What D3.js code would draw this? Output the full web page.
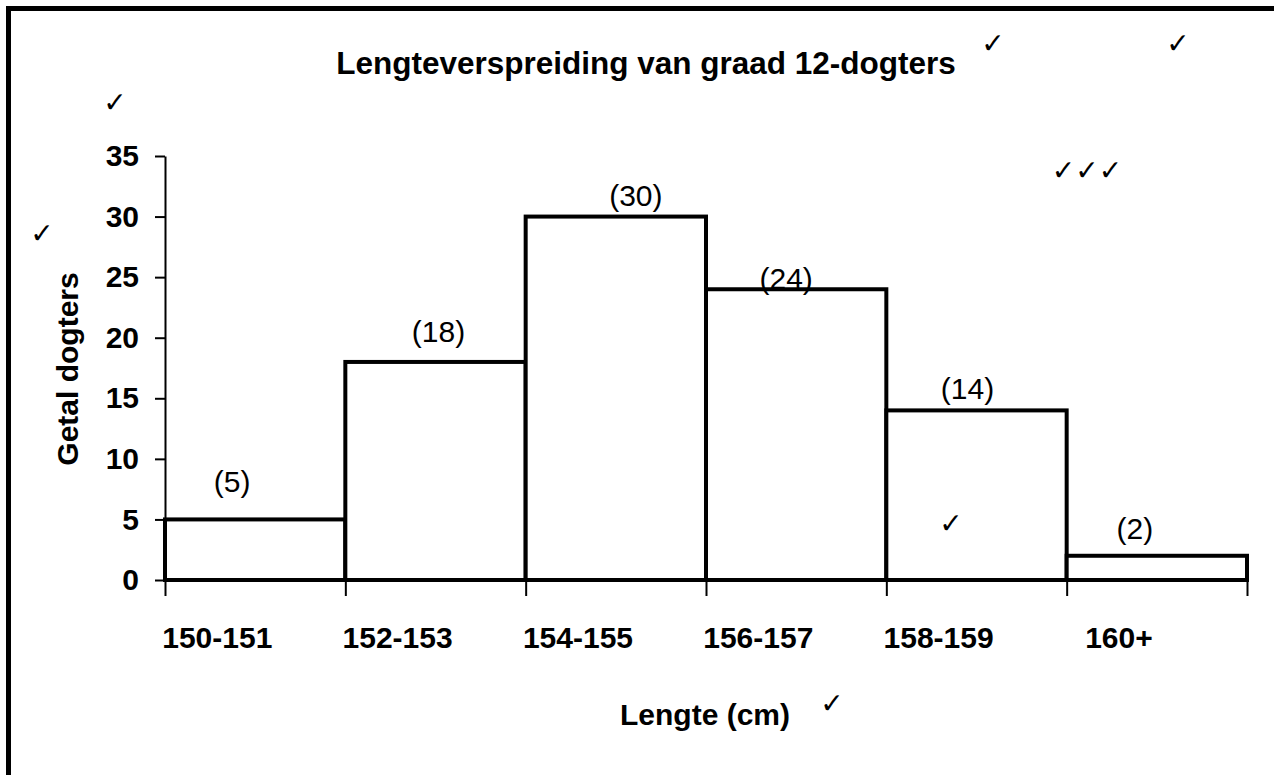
<!DOCTYPE html>
<html>
<head>
<meta charset="utf-8">
<script src="https://cdn.jsdelivr.net/npm/d3@7"></script>
<style>
  body { margin: 0; background: #fff; }
  text { font-family: "Liberation Sans", Arial, sans-serif; fill: #000; }
  .tick-mark { font-family: "DejaVu Sans", sans-serif; }
</style>
</head>
<body>
<div class="canvas"></div>
<script>
// data
const categories = ['150-151', '152-153', '154-155', '156-157', '158-159', '160+'];
const counts = [5, 18, 30, 24, 14, 2];
const yTicks = [0, 5, 10, 15, 20, 25, 30, 35];

// hand placed value labels (offset from bin centre / bar top)
const labelDx = [-23, 3, 20, -10, -9, -22];
const labelDy = [-27, -20, -11, 0, -11, -17];

// marker's ticks scattered over the page
const marks = [
  {x: 115, y: 112, t: '✓'},
  {x: 42, y: 243, t: '✓'},
  {x: 993, y: 53, t: '✓'},
  {x: 1178, y: 53, t: '✓'},
  {x: 1087, y: 180, t: '✓✓✓'},
  {x: 951, y: 533, t: '✓'},
  {x: 832, y: 713, t: '✓'}
];

const dims = {width: 1274, height: 775};

const svg = d3.select('.canvas')
  .append('svg')
  .attr('width', dims.width)
  .attr('height', dims.height);

// frame (runs off the right and bottom)
svg.append('rect')
  .attr('x', 8.5).attr('y', 8.5)
  .attr('width', 1400).attr('height', 900)
  .attr('fill', 'none')
  .attr('stroke', '#000')
  .attr('stroke-width', 5);

const x = d3.scaleLinear()
  .domain([0, categories.length])
  .range([165, 1247]);

const y = d3.scaleLinear()
  .domain([0, 35])
  .range([580, 156]);

// x axis: ticks on bin edges
const xAxis = d3.axisBottom(x)
  .tickValues(d3.range(categories.length + 1))
  .tickSize(16)
  .tickSizeOuter(0)
  .tickFormat('');

const xg = svg.append('g')
  .attr('transform', `translate(0, ${y(0)})`)
  .call(xAxis);
xg.select('.domain').attr('stroke-width', 3);
xg.selectAll('.tick line').attr('stroke-width', 2);

// y axis
const yAxis = d3.axisLeft(y)
  .tickValues(yTicks)
  .tickSize(10)
  .tickSizeOuter(0)
  .tickPadding(16);

const yg = svg.append('g')
  .attr('transform', `translate(${x(0)}, 0)`)
  .call(yAxis);
yg.select('.domain').attr('stroke-width', 2);
yg.selectAll('.tick line').attr('stroke-width', 2);
yg.selectAll('.tick text')
  .style('font-size', '30px')
  .style('font-weight', 'bold')
  .style('font-family', '"Liberation Sans", Arial, sans-serif');

// bars
svg.selectAll('.bar')
  .data(counts)
  .enter()
  .append('rect')
  .attr('class', 'bar')
  .attr('x', (d, i) => x(i))
  .attr('y', d => y(d))
  .attr('width', x(1) - x(0))
  .attr('height', d => y(0) - y(d))
  .attr('fill', '#fff')
  .attr('stroke', '#000')
  .attr('stroke-width', 4);

// value labels
svg.selectAll('.val')
  .data(counts)
  .enter()
  .append('text')
  .attr('class', 'val')
  .attr('text-anchor', 'middle')
  .attr('x', (d, i) => x(i + 0.5) + labelDx[i])
  .attr('y', (d, i) => y(d) + labelDy[i])
  .style('font-size', '30px')
  .text(d => `(${d})`);

// category labels
svg.selectAll('.cat')
  .data(categories)
  .enter()
  .append('text')
  .attr('class', 'cat')
  .attr('text-anchor', 'middle')
  .attr('x', (d, i) => x(i + 0.29))
  .attr('y', 648)
  .style('font-size', '30px')
  .style('font-weight', 'bold')
  .text(d => d);

// titles
svg.append('text')
  .attr('x', 646).attr('y', 74)
  .attr('text-anchor', 'middle')
  .style('font-size', '31.5px')
  .style('font-weight', 'bold')
  .text('Lengteverspreiding van graad 12-dogters');

svg.append('text')
  .attr('x', 705).attr('y', 725)
  .attr('text-anchor', 'middle')
  .style('font-size', '30px')
  .style('font-weight', 'bold')
  .text('Lengte (cm)');

svg.append('text')
  .attr('transform', 'translate(78, 369) rotate(-90)')
  .attr('text-anchor', 'middle')
  .style('font-size', '30px')
  .style('font-weight', 'bold')
  .text('Getal dogters');

// checks
svg.selectAll('.tick-mark')
  .data(marks)
  .enter()
  .append('text')
  .attr('class', 'tick-mark')
  .attr('text-anchor', 'middle')
  .attr('x', d => d.x)
  .attr('y', d => d.y)
  .style('font-size', '28px')
  .style('font-weight', 'bold')
  .text(d => d.t);
</script>
</body>
</html>
